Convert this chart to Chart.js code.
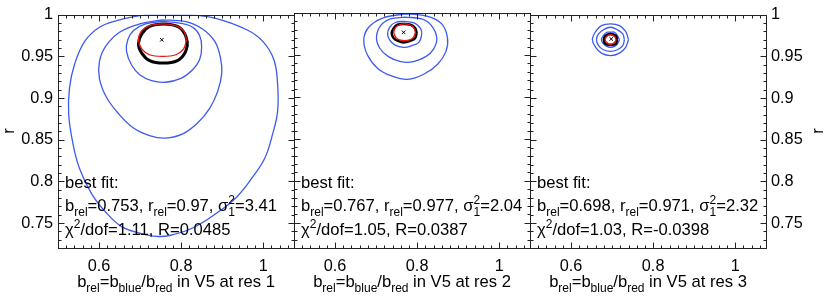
<!DOCTYPE html>
<html>
<head>
<meta charset="utf-8">
<style>
  html, body { margin: 0; padding: 0; background: #fff; }
  #wrap { position: relative; width: 830px; height: 301px; }
  #wrap canvas { position: absolute; left: 0; top: 0; }
</style>
</head>
<body>
<div id="wrap">
  <canvas id="res1" width="830" height="301"></canvas>
  <canvas id="res2" width="830" height="301"></canvas>
  <canvas id="res3" width="830" height="301"></canvas>
</div>
<script src="https://cdn.jsdelivr.net/npm/chart.js"></script>
<script>
// axes
const xRange = [0.5, 1.075];
const yRange = [0.72, 1.0];
const xTicks = [0.6, 0.8, 1.0];
const yTicks = [0.75, 0.8, 0.85, 0.9, 0.95, 1.0];

// best fit for each resolution
const resLabels = ['1', '2', '3'];
const bestB = [0.753, 0.767, 0.698];
const bestR = [0.97, 0.977, 0.971];
const sigma2 = ['3.41', '2.04', '2.32'];
const chi2dof = ['1.11', '1.05', '1.03'];
const corrR = ['0.0485', '0.0387', '-0.0398'];

// contours, [b_rel, r]
const res1Blue1 = [[0.755,0.992],[0.796,0.990],[0.828,0.985],[0.845,0.975],[0.850,0.961],[0.845,0.946],[0.828,0.934],[0.801,0.924],[0.762,0.919],[0.728,0.921],[0.699,0.928],[0.679,0.940],[0.667,0.956],[0.670,0.970],[0.684,0.981],[0.713,0.989],[0.755,0.992]];
const res1Blue2 = [[0.755,0.994],[0.809,0.992],[0.852,0.983],[0.882,0.968],[0.896,0.948],[0.899,0.930],[0.889,0.908],[0.870,0.888],[0.840,0.870],[0.804,0.857],[0.762,0.852],[0.723,0.855],[0.684,0.864],[0.648,0.881],[0.618,0.901],[0.601,0.923],[0.601,0.944],[0.616,0.962],[0.650,0.979],[0.699,0.989],[0.755,0.994]];
const res1Blue3 = [[0.716,1.0],[0.767,1.0],[0.821,1.0],[0.882,0.996],[0.960,0.982],[0.999,0.968],[1.026,0.946],[1.035,0.917],[1.035,0.884],[1.023,0.857],[1.004,0.828],[0.974,0.805],[0.935,0.781],[0.887,0.762],[0.828,0.744],[0.772,0.735],[0.740,0.734],[0.699,0.738],[0.657,0.745],[0.618,0.762],[0.582,0.785],[0.552,0.816],[0.535,0.849],[0.526,0.881],[0.528,0.912],[0.540,0.940],[0.565,0.968],[0.601,0.985],[0.643,0.993],[0.699,0.999],[0.716,1.0]];
const res1Black = [[0.816,0.965],[0.809,0.954],[0.791,0.945],[0.757,0.942],[0.723,0.945],[0.704,0.954],[0.696,0.965],[0.704,0.977],[0.723,0.986],[0.757,0.989],[0.791,0.986],[0.809,0.977],[0.816,0.965]];
const res1Red = [[0.813,0.970],[0.806,0.959],[0.787,0.952],[0.755,0.950],[0.723,0.952],[0.704,0.959],[0.696,0.970],[0.704,0.981],[0.723,0.987],[0.755,0.989],[0.787,0.987],[0.806,0.981],[0.813,0.970]];

const res2Blue1 = [[0.770,0.990],[0.794,0.988],[0.809,0.981],[0.811,0.974],[0.804,0.965],[0.787,0.961],[0.767,0.959],[0.745,0.962],[0.733,0.968],[0.728,0.975],[0.733,0.983],[0.748,0.989],[0.770,0.990]];
const res2Blue2 = [[0.770,0.995],[0.811,0.993],[0.835,0.985],[0.848,0.970],[0.840,0.957],[0.821,0.948],[0.791,0.942],[0.760,0.942],[0.730,0.948],[0.709,0.958],[0.701,0.971],[0.711,0.985],[0.735,0.993],[0.770,0.995]];
const res2Blue3 = [[0.774,0.999],[0.826,0.996],[0.860,0.987],[0.874,0.970],[0.870,0.954],[0.850,0.939],[0.816,0.927],[0.777,0.921],[0.738,0.925],[0.704,0.934],[0.679,0.950],[0.670,0.968],[0.682,0.983],[0.716,0.994],[0.774,0.999]];
const res2Black = [[0.799,0.976],[0.795,0.970],[0.784,0.967],[0.767,0.965],[0.752,0.967],[0.743,0.970],[0.738,0.976],[0.743,0.982],[0.752,0.986],[0.767,0.987],[0.784,0.986],[0.795,0.982],[0.799,0.976]];
const res2Red = [[0.796,0.977],[0.791,0.971],[0.782,0.968],[0.770,0.967],[0.757,0.968],[0.748,0.971],[0.743,0.977],[0.748,0.983],[0.757,0.986],[0.770,0.987],[0.782,0.986],[0.791,0.983],[0.796,0.977]];

const res3Blue1 = [[0.718,0.970],[0.713,0.965],[0.706,0.962],[0.696,0.961],[0.687,0.962],[0.679,0.965],[0.674,0.970],[0.679,0.975],[0.687,0.979],[0.696,0.979],[0.706,0.979],[0.713,0.975],[0.718,0.970]];
const res3Blue2 = [[0.730,0.970],[0.726,0.963],[0.713,0.958],[0.696,0.956],[0.679,0.958],[0.667,0.963],[0.662,0.970],[0.667,0.977],[0.679,0.982],[0.696,0.985],[0.713,0.982],[0.726,0.977],[0.730,0.970]];
const res3Blue3 = [[0.740,0.970],[0.733,0.961],[0.718,0.954],[0.696,0.951],[0.674,0.954],[0.660,0.961],[0.652,0.970],[0.660,0.980],[0.674,0.987],[0.696,0.989],[0.718,0.987],[0.733,0.980],[0.740,0.970]];
const res3Black = [[0.712,0.970],[0.709,0.965],[0.696,0.964],[0.684,0.965],[0.680,0.970],[0.684,0.975],[0.696,0.977],[0.709,0.975],[0.712,0.970]];
const res3Red = [[0.710,0.970],[0.706,0.967],[0.696,0.964],[0.687,0.967],[0.683,0.970],[0.687,0.974],[0.696,0.976],[0.706,0.974],[0.710,0.970]];

const contours = [
  {blue: [res1Blue1, res1Blue2, res1Blue3], black: res1Black, red: res1Red},
  {blue: [res2Blue1, res2Blue2, res2Blue3], black: res2Black, red: res2Red},
  {blue: [res3Blue1, res3Blue2, res3Blue3], black: res3Black, red: res3Red}
];

// layout of the three panels (plot box edges in px)
const panelLeft = [58, 294, 530];
const panelRight = [294, 530, 766];
const FONT = '"Liberation Sans", Arial, Helvetica, sans-serif';
const TXT = 16.6;
const BLUE = 'rgb(60, 90, 240)';

function richWidth(ctx, parts, size) {
  let w = 0;
  parts.forEach(p => {
    if (typeof p === 'string') {
      ctx.font = size + 'px ' + FONT;
      w += ctx.measureText(p).width;
    } else {
      ctx.font = Math.round(size * 0.72) + 'px ' + FONT;
      w += Math.max(p.sub ? ctx.measureText(p.sub).width : 0, p.sup ? ctx.measureText(p.sup).width : 0);
    }
  });
  return w;
}

function drawRich(ctx, x, y, parts, size) {
  parts.forEach(p => {
    if (typeof p === 'string') {
      ctx.font = size + 'px ' + FONT;
      ctx.fillText(p, x, y);
      x += ctx.measureText(p).width;
    } else {
      ctx.font = Math.round(size * 0.72) + 'px ' + FONT;
      let w = 0;
      if (p.sub) { ctx.fillText(p.sub, x, y + 5); w = Math.max(w, ctx.measureText(p.sub).width); }
      if (p.sup) { ctx.fillText(p.sup, x, y - 7); w = Math.max(w, ctx.measureText(p.sup).width); }
      x += w;
    }
  });
}

const framePlugin = {
  id: 'frame',
  afterDraw(chart, args, opts) {
    const i = opts.panel;
    const {ctx, chartArea: a} = chart;
    const sx = chart.scales.x, sy = chart.scales.y;
    ctx.save();
    // box
    ctx.strokeStyle = '#222';
    ctx.lineWidth = 1;
    const l = Math.round(a.left) + 0.5, t = Math.round(a.top) + 0.5;
    const r = Math.round(a.right) + 0.5, b = Math.round(a.bottom) + 0.5;
    ctx.strokeRect(l, t, r - l, b - t);
    // inward ticks on all four sides
    ctx.beginPath();
    for (let k = Math.ceil(sx.min / 0.02 - 1e-9); k * 0.02 <= sx.max + 1e-9; k++) {
      const v = k * 0.02;
      const major = Math.abs(v / 0.2 - Math.round(v / 0.2)) < 1e-6;
      const len = major ? 6 : 3;
      const px = Math.round(sx.getPixelForValue(v)) + 0.5;
      ctx.moveTo(px, b); ctx.lineTo(px, b - len);
      ctx.moveTo(px, t); ctx.lineTo(px, t + len);
    }
    for (let k = Math.ceil(sy.min / 0.01 - 1e-9); k * 0.01 <= sy.max + 1e-9; k++) {
      const v = k * 0.01;
      const major = Math.abs(v / 0.05 - Math.round(v / 0.05)) < 1e-6;
      const len = major ? 6 : 3;
      const py = Math.round(sy.getPixelForValue(v)) + 0.5;
      ctx.moveTo(l, py); ctx.lineTo(l + len, py);
      ctx.moveTo(r, py); ctx.lineTo(r - len, py);
    }
    ctx.stroke();

    // best fit annotation
    ctx.fillStyle = '#000';
    ctx.textBaseline = 'alphabetic';
    ctx.textAlign = 'left';
    const x0 = a.left + 7;
    drawRich(ctx, x0, 188, ['best fit:'], TXT);
    drawRich(ctx, x0, 211, ['b', {sub: 'rel'}, '=' + bestB[i] + ', r', {sub: 'rel'}, '=' + bestR[i] + ', \u03c3', {sup: '2', sub: '1'}, '=' + sigma2[i]], TXT);
    drawRich(ctx, x0, 235, ['\u03c7', {sup: '2'}, '/dof=' + chi2dof[i] + ', R=' + corrR[i]], TXT);

    // x axis title
    const title = ['b', {sub: 'rel'}, '=b', {sub: 'blue'}, '/b', {sub: 'red'}, ' in V5 at res ' + resLabels[i]];
    const tw = richWidth(ctx, title, TXT);
    drawRich(ctx, (a.left + a.right) / 2 - tw / 2, 287, title, TXT);

    // y axis title
    if (i !== 1) {
      ctx.save();
      ctx.translate(i === 0 ? 9 : 818, 131);
      ctx.rotate(-Math.PI / 2);
      ctx.font = TXT + 'px ' + FONT;
      ctx.textAlign = 'center';
      ctx.textBaseline = 'middle';
      ctx.fillText('r', 0, 0);
      ctx.restore();
    }
    ctx.restore();
  }
};

function curve(pts, color, width) {
  return {
    data: pts.map(p => ({x: p[0], y: p[1]})),
    showLine: true,
    borderColor: color,
    borderWidth: width,
    pointRadius: 0,
    tension: 0.4,
    fill: false
  };
}

function makePanel(i) {
  const c = contours[i];
  const datasets = [
    {
      data: [{x: bestB[i], y: bestR[i]}],
      pointStyle: 'crossRot',
      pointRadius: 2.5,
      borderColor: '#000',
      borderWidth: 1,
      showLine: false
    },
    curve(c.red, 'rgb(235, 20, 20)', 1.3),
    curve(c.black, '#000', i === 0 ? 3 : 2.5),
    ...c.blue.map(b => curve(b, BLUE, 1.3))
  ];
  const tickFont = {family: FONT, size: 16.3};
  return new Chart(document.getElementById('res' + (i + 1)), {
    type: 'scatter',
    data: {datasets},
    options: {
      responsive: false,
      animation: false,
      devicePixelRatio: 1,
      layout: {
        padding: {
          left: i === 0 ? 0 : panelLeft[i],
          right: i === 2 ? 0 : 830 - panelRight[i],
          top: 13,
          bottom: 0
        }
      },
      plugins: {
        legend: {display: false},
        tooltip: {enabled: false},
        frame: {panel: i}
      },
      scales: {
        x: {
          type: 'linear',
          min: xRange[0],
          max: xRange[1],
          afterBuildTicks: s => { s.ticks = xTicks.map(v => ({value: v})); },
          afterFit: s => { s.height = 53; },
          grid: {display: false, drawTicks: false},
          border: {display: false},
          ticks: {font: tickFont, color: '#000', padding: 9, maxRotation: 0, autoSkip: false, callback: v => String(v)}
        },
        y: {
          type: 'linear',
          position: i === 2 ? 'right' : 'left',
          display: i !== 1,
          min: yRange[0],
          max: yRange[1],
          afterBuildTicks: s => { s.ticks = yTicks.map(v => ({value: v})); },
          afterFit: s => { s.width = i === 0 ? panelLeft[0] : (i === 2 ? 830 - panelRight[2] : 0); },
          grid: {display: false, drawTicks: false},
          border: {display: false},
          ticks: {font: tickFont, color: '#000', padding: 5, autoSkip: false, callback: v => String(v)}
        }
      }
    },
    plugins: [framePlugin]
  });
}

[0, 1, 2].forEach(makePanel);
</script>
</body>
</html>
